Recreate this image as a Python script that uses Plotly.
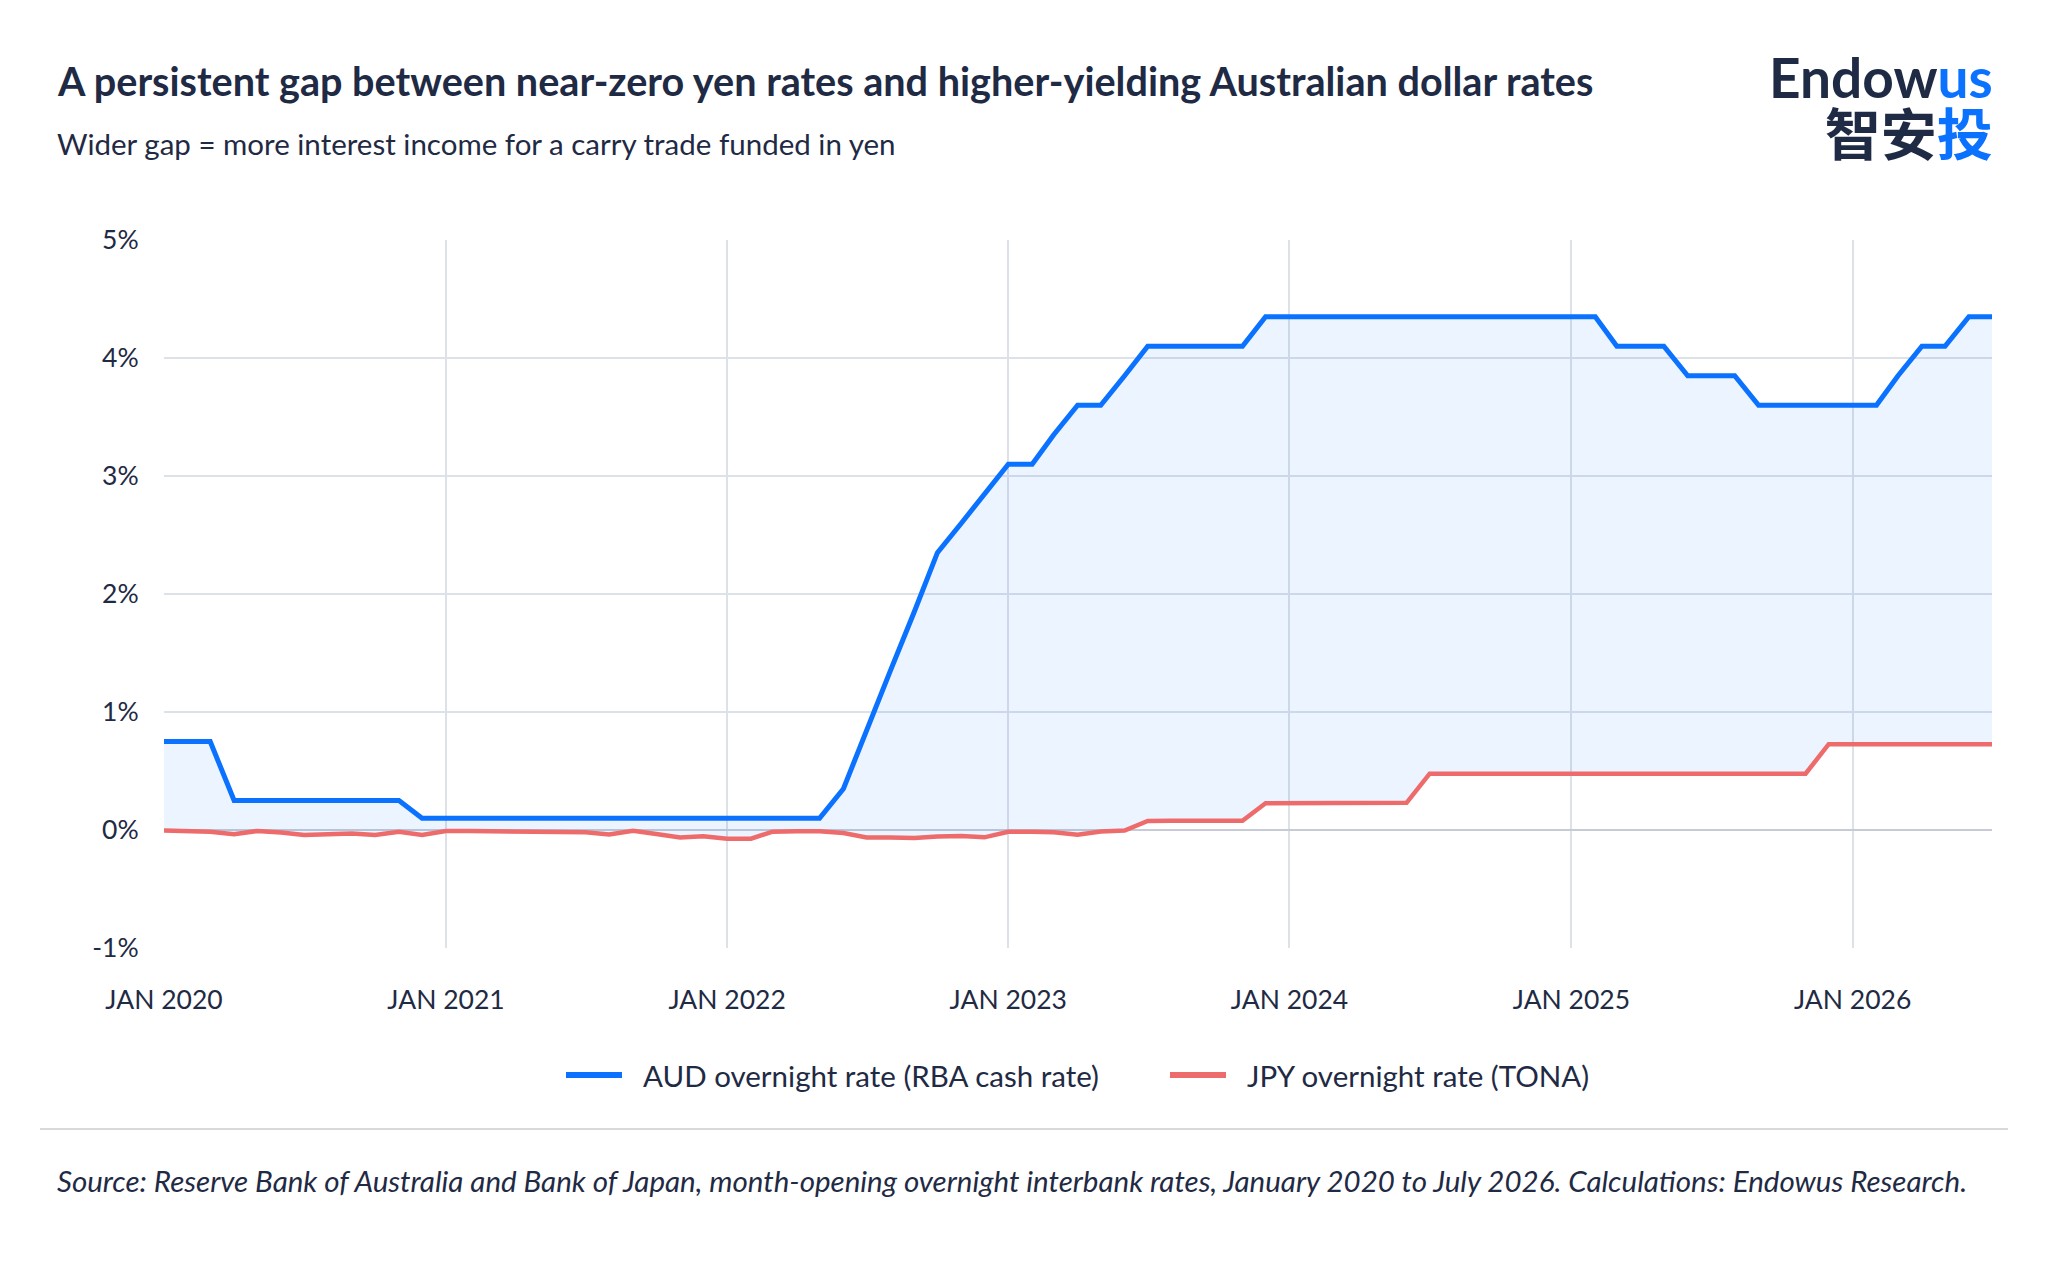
import pandas as pd
import plotly.graph_objects as go

# month-opening observations, Jan 2020 .. Jul 2026
months = pd.date_range("2020-01-01", "2026-07-01", freq="MS")

aud_rate = [
    0.75, 0.75, 0.75, 0.25, 0.25, 0.25, 0.25, 0.25, 0.25, 0.25, 0.25, 0.10,
    0.10, 0.10, 0.10, 0.10, 0.10, 0.10, 0.10, 0.10, 0.10, 0.10, 0.10, 0.10,
    0.10, 0.10, 0.10, 0.10, 0.10, 0.35, 0.85, 1.35, 1.85, 2.35, 2.60, 2.85,
    3.10, 3.10, 3.35, 3.60, 3.60, 3.85, 4.10, 4.10, 4.10, 4.10, 4.10, 4.35,
    4.35, 4.35, 4.35, 4.35, 4.35, 4.35, 4.35, 4.35, 4.35, 4.35, 4.35, 4.35,
    4.35, 4.35, 4.10, 4.10, 4.10, 3.85, 3.85, 3.85, 3.60, 3.60, 3.60, 3.60,
    3.60, 3.60, 3.85, 4.10, 4.10, 4.35, 4.35,
]

jpy_rate = [
    -0.005, -0.007, -0.015, -0.035, -0.008, -0.022, -0.042, -0.036, -0.030, -0.042, -0.016, -0.042,
    -0.008, -0.008, -0.010, -0.005, -0.012, -0.016, -0.020, -0.037, -0.006, -0.034, -0.064, -0.054,
    -0.074, -0.074, -0.014, -0.010, -0.010, -0.025, -0.064, -0.064, -0.068, -0.056, -0.050, -0.062,
    -0.015, -0.015, -0.020, -0.040, -0.012, -0.004, 0.077, 0.078, 0.078, 0.079, 0.079, 0.227,
    0.228, 0.228, 0.229, 0.229, 0.230, 0.230, 0.477, 0.477, 0.477, 0.477, 0.477, 0.477,
    0.477, 0.477, 0.477, 0.477, 0.477, 0.477, 0.477, 0.477, 0.477, 0.477, 0.477, 0.727,
    0.727, 0.727, 0.727, 0.727, 0.727, 0.727, 0.727,
]

x_tick_vals = ["2020-01-01", "2021-01-01", "2022-01-01", "2023-01-01",
               "2024-01-01", "2025-01-01", "2026-01-01"]
x_tick_text = ["JAN 2020", "JAN 2021", "JAN 2022", "JAN 2023",
               "JAN 2024", "JAN 2025", "JAN 2026"]
y_tick_vals = [-1, 0, 1, 2, 3, 4, 5]
y_tick_text = ["-1%", "0%", "1%", "2%", "3%", "4%", "5%"]

series_names = ["AUD overnight rate (RBA cash rate)", "JPY overnight rate (TONA)"]

NAVY = "#1f2a44"
BLUE = "#0a72ff"
RED = "#ee6b6b"
FONT = "Lato"

# the page body adds an 8px margin, so the figure is drawn 8px smaller
OFF = 8
W, H = 2048 - OFF, 1270 - OFF
# plot area in page pixels
PL, PR, PT, PB = 164, 1992, 240, 948


def px(x):
    return (x - PL) / (PR - PL)


def py(y):
    return (PB - y) / (PB - PT)


fig = go.Figure()

fig.add_trace(go.Scatter(
    x=months, y=aud_rate, mode="lines", name=series_names[0],
    line=dict(color=BLUE, width=5),
))
# JPY fills up to the AUD line: the shaded gap
fig.add_trace(go.Scatter(
    x=months, y=jpy_rate, mode="lines", name=series_names[1],
    line=dict(color=RED, width=4.5), fill="tonexty",
    fillcolor="rgba(10,114,255,0.08)",
))

fig.update_layout(
    width=W, height=H,
    margin=dict(l=PL - OFF, r=2048 - PR, t=PT - OFF, b=1270 - PB),
    paper_bgcolor="white", plot_bgcolor="white",
    font=dict(family=FONT, color=NAVY, size=26),
    showlegend=False,
)

fig.update_xaxes(
    range=["2020-01-01", "2026-07-01"], tickvals=x_tick_vals, ticktext=x_tick_text,
    showgrid=True, gridcolor="#dde1e8", gridwidth=2, zeroline=False,
    ticks="outside", ticklen=28, tickcolor="rgba(0,0,0,0)",
    tickfont=dict(size=26.5, color=NAVY), showline=False,
)
fig.update_yaxes(
    range=[-1, 5], tickvals=y_tick_vals, ticktext=y_tick_text,
    showgrid=True, gridcolor="#dde1e8", gridwidth=2,
    zeroline=True, zerolinecolor="#c6cbd5", zerolinewidth=2,
    ticks="outside", ticklen=19, tickcolor="rgba(0,0,0,0)",
    tickfont=dict(size=26.5, color=NAVY), showline=False,
)

# legend below the chart: long thick swatches with wide spacing
legend_items = [(series_names[0], BLUE, 566), (series_names[1], RED, 1170)]
for name, color, left in legend_items:
    fig.add_shape(
        type="line", xref="paper", yref="paper",
        x0=px(left), x1=px(left + 56), y0=py(1075), y1=py(1075),
        line=dict(color=color, width=6),
    )
    fig.add_annotation(
        text=name, xref="paper", yref="paper", x=px(left + 75), y=py(1075),
        xanchor="left", yanchor="middle", showarrow=False,
        font=dict(size=29.5, color=NAVY),
    )

# headline, subtitle, logo and source
fig.add_annotation(
    text="<b>A persistent gap between near-zero yen rates and higher-yielding Australian dollar rates</b>",
    xref="paper", yref="paper", x=px(55), y=py(81), xanchor="left", yanchor="middle",
    showarrow=False, font=dict(size=39.6, color=NAVY),
)
fig.add_annotation(
    text="Wider gap = more interest income for a carry trade funded in yen",
    xref="paper", yref="paper", x=px(55), y=py(143), xanchor="left", yanchor="middle",
    showarrow=False, font=dict(size=29.5, color=NAVY),
)
# logo as one two-line block so the lines sit tight together
fig.add_annotation(
    text=(f"<span style='font-size:55px'><b>Endow<span style='color:{BLUE}'>us</span></b></span><br>"
          f"<span style='font-size:56px;font-family:Noto Sans CJK SC'>"
          f"<b>智安<span style='color:{BLUE}'>投</span></b></span>"),
    xref="paper", yref="paper", x=px(1995), y=py(107), xanchor="right", yanchor="middle",
    align="right", showarrow=False, font=dict(size=43.5, color=NAVY, family="Lato"),
)
fig.add_shape(
    type="line", xref="paper", yref="paper",
    x0=px(40), x1=px(2008), y0=py(1129), y1=py(1129),
    line=dict(color="#d9d9d9", width=2),
)
fig.add_annotation(
    text="<i>Source: Reserve Bank of Australia and Bank of Japan, month-opening overnight interbank rates, "
         "January 2020 to July 2026. Calculations: Endowus Research.</i>",
    xref="paper", yref="paper", x=px(55), y=py(1180), xanchor="left", yanchor="middle",
    showarrow=False, font=dict(size=29.5, color=NAVY),
)

fig.write_html("out.html")
